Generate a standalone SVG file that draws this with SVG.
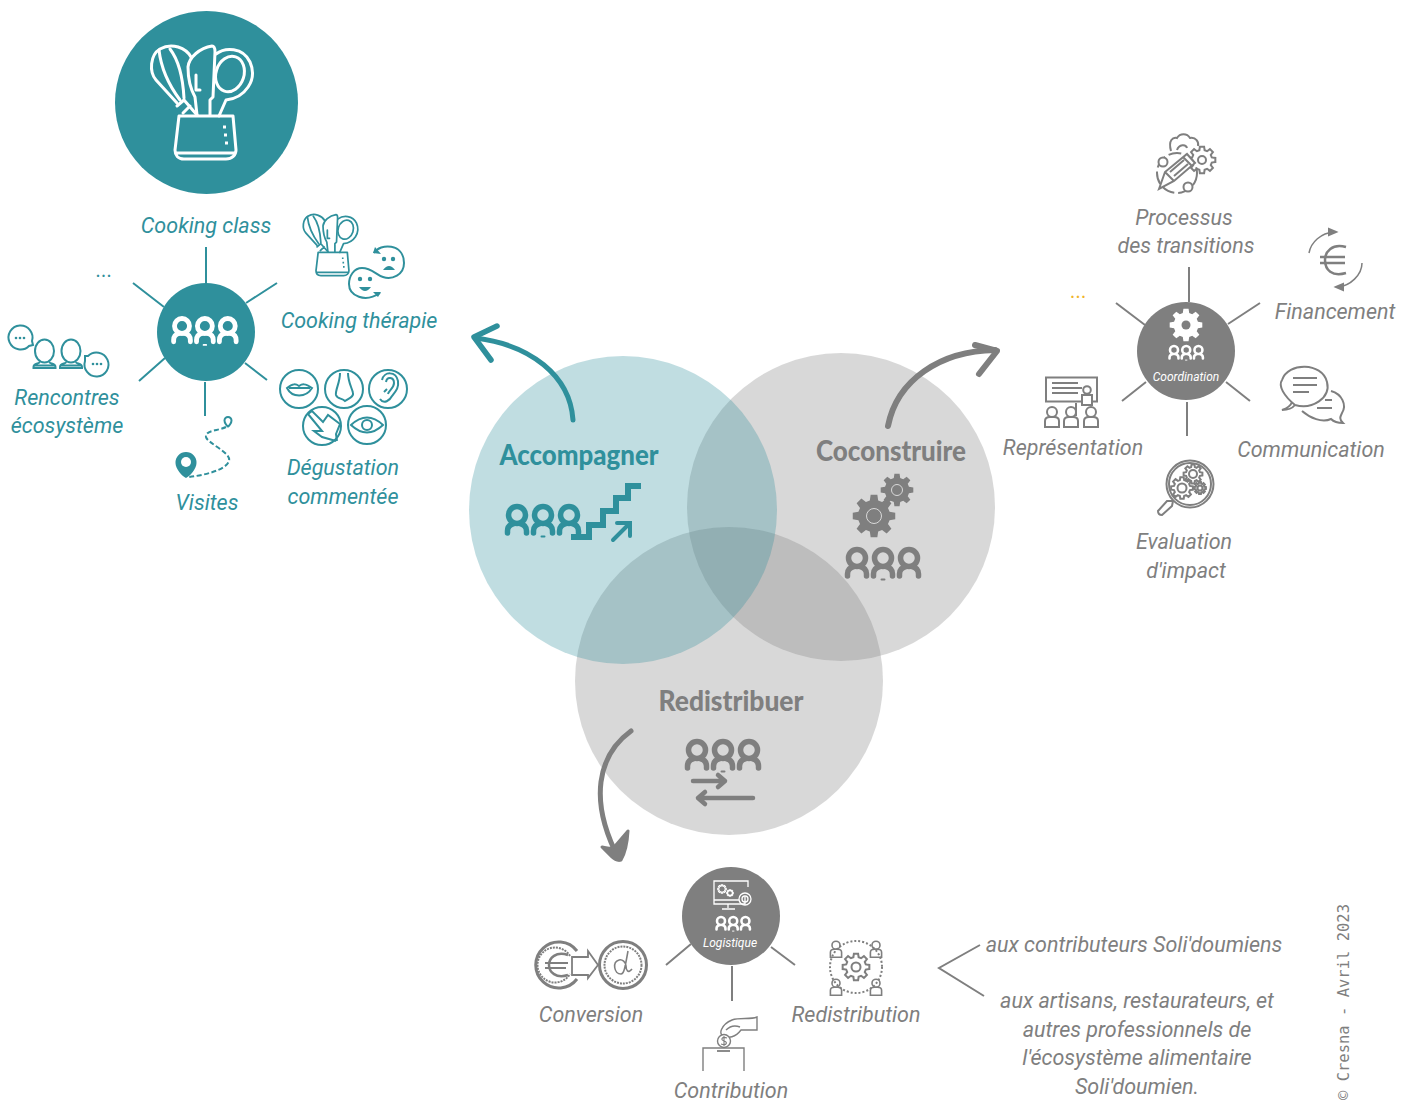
<svg xmlns="http://www.w3.org/2000/svg" width="1416" height="1102" viewBox="0 0 1416 1102">
<style>
text{font-family:Roboto,"Liberation Sans",sans-serif;font-style:italic;font-weight:400;font-size:21.500px;text-anchor:middle}
.t{fill:#2f909c}.g{fill:#7f7f7f}.w{fill:#fff}
.h{font-family:Lato,"Liberation Sans",sans-serif;font-weight:900;font-size:28px;font-style:normal}
.sm{font-size:12px;font-weight:400}
.m{font-family:"DejaVu Sans Mono",monospace;font-style:normal;font-weight:400;font-size:15.500px;text-anchor:start;fill:#7f7f7f}
.st{stroke:#2f909c;fill:none;stroke-width:2}
.sg{stroke:#7f7f7f;fill:none;stroke-width:2}
.sg1{stroke:#7f7f7f;fill:none;stroke-width:1.4}
.sw{stroke:#fff;fill:none;stroke-width:1.3}
.big{fill:none;stroke-width:5;stroke-linecap:round;stroke-linejoin:round}
#gear{vector-effect:non-scaling-stroke}
</style>
<defs>
<g id="people" fill="none" stroke-linecap="round">
<g id="p1"><circle cx="0" cy="0" r="8.500" stroke-width="5.500"/><path d="M-9.500 18V16Q-9.500 10-3 8.500M9.500 18V16Q9.500 10 3 8.500" stroke-width="5.500"/></g>
<use href="#p1" x="26"/><use href="#p1" x="52"/>
<path d="M24.500 21.500h3" stroke-width="2"/>
</g>
<polygon id="gear" points="9.88,1.56 7.24,1.94 6.5,3.75 8.09,5.88 5.88,8.09 3.75,6.5 1.94,7.24 1.56,9.88 -1.56,9.88 -1.94,7.24 -3.75,6.5 -5.88,8.09 -8.09,5.88 -6.5,3.75 -7.24,1.94 -9.88,1.56 -9.88,-1.56 -7.24,-1.94 -6.5,-3.75 -8.09,-5.88 -5.88,-8.09 -3.75,-6.5 -1.94,-7.24 -1.56,-9.88 1.56,-9.88 1.94,-7.24 3.75,-6.5 5.88,-8.09 8.09,-5.88 6.5,-3.75 7.24,-1.94 9.88,-1.56"/>
<g id="pot" fill="none" stroke-linejoin="round" stroke-linecap="round">
<path d="M177 103L156 80C149 72 150 55 160 49C172 42 186 48 191 57"/>
<path d="M159 50C161 68 168 84 180 100M170 49C180 62 183 80 184 98"/>
<path d="M177 106L184 100L197 115M183 113L190 106"/>
<path d="M197 115L195 97C190 88 188 78 188 67C189 57 200 48 212 46C215 46 215 50 215 52L213 97L210 100V115M196 75V90H200"/>
<path d="M216 54C225 47 243 47 250 62C258 80 245 98 226 100L219 116"/>
<ellipse cx="230" cy="74" rx="14" ry="18" transform="rotate(18 230 74)"/>
<path d="M179 116H233L236 150C236 155 232 159 226 159H184C178 159 175 155 175 150ZM177 153H234"/>
<path d="M223 127h3M224 135h3M225 143h3" stroke-width="3" stroke-linecap="butt"/>
</g>
<g id="pers" fill="none"><ellipse cx="0" cy="-8" rx="9.500" ry="11.500"/><path d="M-5 3C-5 5-11 4-11 8V9H11V8C11 4 5 5 5 3M-11 6.500H11"/></g>
<g id="pers2" fill="none"><circle cx="0" cy="-6" r="5"/><path d="M-7 9V3Q-7-1-2-1H2Q7-1 7 3V9Z"/></g>
</defs>

<rect width="1416" height="1102" fill="#fff"/>

<g id="venn">
<circle cx="841" cy="507" r="154" fill="#7f7f7f" opacity=".3"/>
<circle cx="729" cy="681" r="154" fill="#7f7f7f" opacity=".3"/>
<circle cx="623" cy="510" r="154" fill="#2f909c" opacity=".3"/>
</g>

<g id="connectors">
<g class="st">
<path d="M206 247V283M277 283L246 303M133 283L164 307M139 381L165 358M267 380L245 363M205 382V416"/>
</g>
<g class="sg">
<path d="M1189 267V302M1260 303L1228 324M1116 303L1145 325M1122 401L1146 382M1250 401L1226 382M1187 402V436"/>
<path d="M666 965L691 944M795 965L771 947M732 966V1001"/>
<path d="M980 945L939 968L984 996"/>
</g>
<g class="big" stroke="#2f909c"><path d="M573 420C570 375 530 345 476 338"/><path d="M497 326L474 337L491 360" stroke-width="5.500"/></g>
<g class="big" stroke="#7f7f7f"><path d="M888 426C897 380 940 351 995 350" stroke-width="6"/><path d="M975 345L997 351L979 374" stroke-width="6"/></g>
<g class="big" stroke="#7f7f7f"><path d="M631 731C598 755 588 800 619 859"/><path d="M602 847Q613 850 616 845Q622 838 628 831Q627 850 621 860Q616 861 612 857Z" fill="#7f7f7f" stroke-width="3"/></g>
</g>

<g id="accompagner">
<text class="h t" x="579" y="465" textLength="159" lengthAdjust="spacingAndGlyphs">Accompagner</text>
<use href="#people" x="517" y="515" stroke="#2f909c"/>
<path d="M571 537H589V525H603V511H616V498H628V486H641" fill="none" stroke="#2f909c" stroke-width="6"/>
<path d="M613 540L629 524M617 523H630V536" fill="none" stroke="#2f909c" stroke-width="4" stroke-linecap="round"/>
</g>

<g id="coconstruire">
<text class="h g" x="891" y="461" textLength="150" lengthAdjust="spacingAndGlyphs">Coconstruire</text>
<use href="#gear" transform="translate(874 516) scale(2.150)" fill="#7f7f7f"/>
<circle cx="874" cy="516" r="7.500" fill="#7f7f7f" stroke="#d9d9d9" stroke-width="1"/>
<use href="#gear" transform="translate(897 490) scale(1.650)" fill="#7f7f7f"/>
<circle cx="897" cy="490" r="5.500" fill="#7f7f7f" stroke="#d9d9d9" stroke-width="1"/>
<use href="#people" x="857" y="558" stroke="#7f7f7f"/>
</g>

<g id="redistribuer">
<text class="h g" x="731" y="711" textLength="145" lengthAdjust="spacingAndGlyphs">Redistribuer</text>
<use href="#people" x="697" y="750" stroke="#7f7f7f"/>
<path d="M693 781H725M718 775L725 781L718 787M753 798H698M705 792L698 798L705 804" fill="none" stroke="#7f7f7f" stroke-width="4.500" stroke-linecap="round" stroke-linejoin="round"/>
</g>

<g id="cooking-icon">
<circle cx="206.500" cy="102.500" r="91.500" fill="#2f909c"/>
<use href="#pot" stroke="#fff" stroke-width="3"/>
</g>

<g id="hub-accompagner">
<circle cx="206" cy="332" r="49" fill="#2f909c"/>
<use href="#people" transform="translate(182 326) scale(.88)" stroke="#fff"/>
</g>
<g id="cooking-class"><text class="t" x="206" y="233">Cooking class</text></g>
<g id="cooking-therapie">
<use href="#pot" transform="translate(221.500 189.700) scale(.54)" stroke="#2f909c" stroke-width="3.200"/>
<path d="M374 253C380 243 404 243 404 263C404 275 392 280 383 277C376 275 372 268 362 268C354 268 349 276 349 284C349 296 365 303 380 293" class="st"/>
<path d="M373 253L375 247L381 254ZM381 292L373 292L378 297Z" fill="#2f909c"/>
<g fill="#2f909c"><circle cx="384" cy="259" r="2.200"/><circle cx="393" cy="259" r="2.200"/><path d="M383 270Q389 262 395 270Z"/><circle cx="360" cy="279" r="2.200"/><circle cx="370" cy="279" r="2.200"/><path d="M359 287H371Q365 295 359 287Z"/></g>
<text class="t" x="359" y="328">Cooking thérapie</text>
</g>
<g id="degustation">
<g class="st">
<circle cx="299" cy="389" r="19"/><circle cx="344" cy="389" r="19"/><circle cx="388" cy="389" r="19"/><circle cx="322" cy="426" r="19"/><circle cx="367" cy="425" r="19"/>
<path d="M287 388C293 383 296 384 299 386C302 384 305 383 312 388C306 398 292 398 287 388ZM289 388H310"/>
<path d="M340 373C340 383 335 390 336 395C337 399 342 398 345 401C349 398 354 397 353 393C352 388 348 382 348 373"/>
<path d="M380 399C384 405 390 400 392 396C396 391 399 388 398 381C396 371 384 371 382 380M386 382C387 376 394 377 394 383C394 388 389 390 388 394M384 392L387 389"/>
<path d="M308 414L312 411L323 422L328 415L340 424L336 434L337 441M308 414L322 431L314 431L322 437L336 441"/>
<path d="M351 425Q367 410 383 425Q367 440 351 425Z"/><circle cx="367" cy="425" r="5"/>
</g>
<text class="t" x="343" y="475">Dégustation</text>
<text class="t" x="343" y="504">commentée</text>
</g>
<g id="visites">
<path d="M186 452a10.500 10.500 0 0 1 10.500 11C196.500 469 190 476 186 478C182 476 175.500 469 175.500 463A10.500 10.500 0 0 1 186 452Z" fill="#2f909c"/>
<circle cx="186" cy="462" r="5" fill="#fff"/>
<path d="M228 417a3.500 3.500 0 0 1 3.500 3.500C231.500 423 229 426 228 426.500C227 426 224.500 423 224.500 420.500A3.500 3.500 0 0 1 228 417Z" class="st" stroke-width="1.300"/>
<path d="M226 427C218 431 205 430 206 437C207 443 232 453 229 461C226 470 205 475 189 477" class="st" stroke-width="1.200" stroke-dasharray="5 2.500"/>
<text class="t" x="207" y="510">Visites</text>
</g>
<g id="rencontres">
<g class="st">
<path d="M29 346A12 12 0 1 1 32 341L33 345Z"/>
<use href="#pers" x="44.500" y="359"/><use href="#pers" x="71" y="359"/>
<path d="M88 356A12 12 0 1 1 85 361L85 356Z"/>
</g>
<g fill="#2f909c"><circle cx="16" cy="338" r="1.300"/><circle cx="20" cy="338" r="1.300"/><circle cx="24" cy="338" r="1.300"/><circle cx="93" cy="364" r="1.300"/><circle cx="97" cy="364" r="1.300"/><circle cx="101" cy="364" r="1.300"/></g>
<text class="t" x="67" y="405">Rencontres</text>
<text class="t" x="67" y="433">écosystème</text>
</g>
<g id="dots-teal"><text class="t" x="104.500" y="277">...</text></g>

<g id="hub-coconstruire">
<circle cx="1186" cy="351" r="49" fill="#7f7f7f"/>
<use href="#gear" transform="translate(1186 325) scale(1.650)" fill="#fff"/>
<circle cx="1186" cy="325" r="4.500" fill="#7f7f7f"/>
<use href="#people" transform="translate(1174 350) scale(.47)" stroke="#fff"/>
<text class="sm w" x="1186" y="381">Coordination</text>
</g>
<g id="processus">
<g class="sg" stroke-width="1.700">
<circle cx="1177" cy="173" r="20" stroke-dasharray="13 4"/>
<path d="M1171 151C1168 140 1173 137 1177 138C1180 133 1187 133 1190 138C1196 137 1199 142 1198 146M1177 150C1179 144 1186 144 1187 148"/>
<use href="#gear" transform="translate(1202 160) scale(1.350)"/>
<circle cx="1202" cy="160" r="4"/>
<circle cx="1163" cy="162" r="4.500" fill="#fff"/><circle cx="1188" cy="187" r="4.500" fill="#fff"/>
<path d="M1159 189L1165 172L1187 154L1195 163L1174 181ZM1165 172L1174 181M1183 157L1192 166M1170 172L1184 160M1174 176L1188 164" fill="#fff"/>
</g>
<text class="g" x="1184" y="225">Processus</text>
<text class="g" x="1186" y="253">des transitions</text>
</g>
<g id="financement">
<g class="sg">
<path d="M1346 247C1332 243 1325 252 1325 260C1325 270 1332 277 1346 273" stroke-width="2.500"/>
<path d="M1320 257H1345M1320 263H1345" stroke-width="2.500"/>
<path d="M1309 253C1311 242 1321 233 1334 232" stroke-width="1.500"/><path d="M1336 232L1329 229V235Z" fill="#7f7f7f"/>
<path d="M1362 263C1362 275 1350 286 1338 287" stroke-width="1.500"/><path d="M1336 287L1343 284V290Z" fill="#7f7f7f"/>
</g>
<text class="g" x="1335" y="319">Financement</text>
</g>
<g id="communication">
<g class="sg" stroke-width="2.200">
<path d="M1295 405C1284 396 1278 386 1282 380C1288 362 1322 362 1327 382C1331 398 1312 410 1295 405C1291 410 1286 410 1282 410C1288 408 1291 405 1292 402"/>
<path d="M1293 378H1317M1293 385H1317M1293 392H1309"/>
<path d="M1331 391C1342 394 1347 405 1342 413C1340 417 1339 419 1343 423C1338 423 1334 422 1331 419C1322 423 1310 418 1302 411"/>
<path d="M1325 400H1332M1317 408H1332"/>
</g>
<text class="g" x="1311" y="457">Communication</text>
</g>
<g id="evaluation">
<g class="sg" stroke-width="1.500">
<circle cx="1190" cy="484" r="23.500"/><circle cx="1190" cy="484" r="21"/>
<use href="#gear" transform="translate(1193 474) scale(.95)"/><circle cx="1193" cy="474" r="4"/>
<use href="#gear" transform="translate(1182 488) scale(1.100)"/><circle cx="1182" cy="488" r="4.500"/>
<use href="#gear" transform="translate(1200 488) scale(.6)"/><circle cx="1200" cy="488" r="2.500"/>
<path d="M1173 501L1167 501L1158 511Q1158 515 1162 515L1172 506Z"/>
</g>
<text class="g" x="1184" y="549">Evaluation</text>
<text class="g" x="1186" y="578">d'impact</text>
</g>
<g id="representation">
<g class="sg" stroke-width="1.700">
<rect x="1046" y="377.500" width="51" height="24"/>
<path d="M1052 383H1078M1052 388H1082M1052 393H1078"/>
<use href="#pers2" x="1052" y="418"/><use href="#pers2" x="1071" y="418"/><use href="#pers2" x="1091" y="418"/>
<circle cx="1087" cy="390" r="3.800" fill="#fff"/><path d="M1082 405V395H1092V405Z" fill="#fff"/><path d="M1076 416V403"/>
</g>
<text class="g" x="1073" y="455">Représentation</text>
</g>
<g id="dots-orange"><text x="1079" y="298" style="fill:#f0b429">...</text></g>

<g id="hub-redistribuer">
<circle cx="731" cy="916" r="49" fill="#7f7f7f"/>
<g class="sw">
<path d="M745 897V904H714V881H748V887"/><path d="M714 900H739M728 904V908M722 909H735"/>
<circle cx="745" cy="899" r="6"/><circle cx="745" cy="899" r="3"/>
<use href="#gear" transform="translate(722 889) scale(.42)"/>
<use href="#gear" transform="translate(730 893) scale(.32)"/>
</g>
<use href="#people" transform="translate(721 921) scale(.47)" stroke="#fff"/>
<text class="sm w" x="730" y="947">Logistique</text>
</g>
<g id="conversion">
<g class="sg">
<path d="M577 951A23 23 0 1 0 577 979" stroke-width="3"/>
<path d="M570 956A17.500 17.500 0 1 0 570 974" stroke-dasharray="2 1"/>
<path d="M568 955C556 951 549 958 549 965C549 972 556 979 568 975" stroke-width="2.500"/><path d="M545 963H568M545 968H566" stroke-width="2"/>
<path d="M572 957H588V951L598 965L588 978V975H572Z" stroke-width="1.800"/>
<circle cx="623" cy="965" r="23.500" stroke-width="3"/><circle cx="623" cy="965" r="18.500" stroke-dasharray="2 1"/>
<path d="M628 951C625 968 624 974 621 974C614 974 612 962 619 960C622 959 626 962 626 966C626 970 628 974 632 969" stroke-width="1.600"/>
</g>
<text class="g" x="591" y="1022">Conversion</text>
</g>
<g id="contribution">
<g class="sg1">
<path d="M757 1017V1030H741C735 1038 728 1038 726 1036C716 1036 722 1024 732 1020C740 1017 750 1020 757 1017Z"/>
<path d="M726 1030C730 1026 735 1025 740 1027"/>
<circle cx="724" cy="1041" r="6.500" fill="#fff"/>
<path d="M727 1038C722 1036 720 1040 724 1041C728 1042 727 1046 721 1044M724 1036V1046" stroke-width="1.100"/>
<path d="M703 1071V1048H744V1071"/><path d="M717 1051H730" stroke-width="1.800"/>
</g>
<text class="g" x="731" y="1098">Contribution</text>
</g>
<g id="redistribution">
<g class="sg" stroke-width="1.500">
<use href="#gear" transform="translate(856 967) scale(1.350)"/><circle cx="856" cy="967" r="4.500"/>
<circle cx="856" cy="967" r="26" stroke-dasharray="2 2"/>
<use href="#pers2" transform="translate(836 950) scale(.8)" fill="#fff"/>
<use href="#pers2" transform="translate(876 950) scale(.8)"/>
<use href="#pers2" transform="translate(836 988) scale(.8)"/>
<use href="#pers2" transform="translate(876 988) scale(.8)"/>
</g>
<text class="g" x="856" y="1022">Redistribution</text>
</g>
<g id="notes">
<text class="g" x="1134" y="952">aux contributeurs Soli'doumiens</text>
<text class="g" x="1137" y="1008">aux artisans, restaurateurs, et</text>
<text class="g" x="1137" y="1037">autres professionnels de</text>
<text class="g" x="1137" y="1065">l'écosystème alimentaire</text>
<text class="g" x="1137" y="1094">Soli'doumien.</text>
</g>
<g id="credit"><text class="m" transform="translate(1349 1100) rotate(-90)">© Cresna - Avril 2023</text></g>
</svg>
